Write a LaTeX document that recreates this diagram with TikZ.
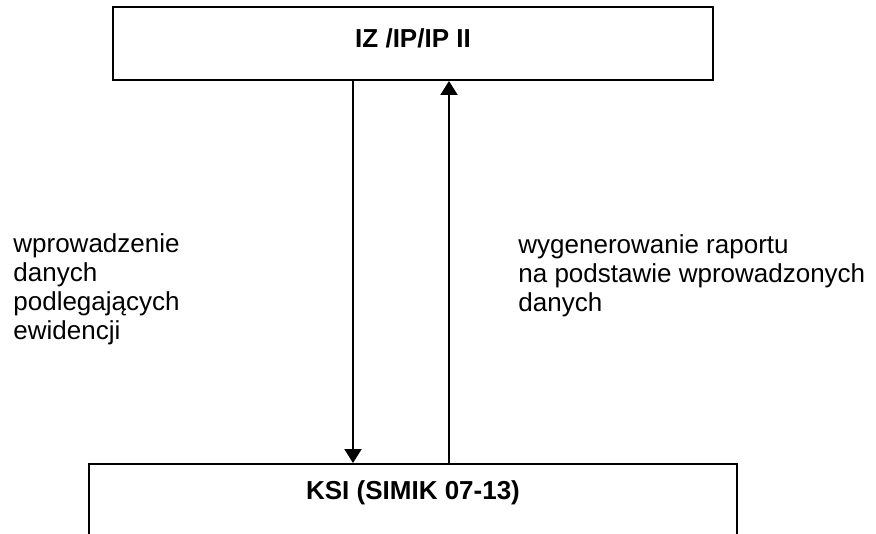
\documentclass[tikz,border=0pt]{standalone}
\usepackage{fontspec}
\setmainfont{Liberation Sans}
\usetikzlibrary{arrows.meta,positioning}
\tikzset{
  blk/.style  = {draw, line width=1pt, inner sep=0pt,
                 font=\fontsize{13}{14.5}\selectfont\bfseries},
  flow/.style = {-{Triangle[length=7pt,width=8.5pt]}, line width=1pt},
  lbl/.style  = {align=left, inner sep=0pt, anchor=north west,
                 font=\fontsize{13}{14.5}\selectfont},
}

\begin{document}
\begin{tikzpicture}[x=0.5pt,y=-0.5pt]
  \clip (0,0) rectangle (876,534);
  \fill[white] (0,0) rectangle (876,534);

  % ---------- the two boxes ----------------------------------------------
  \node[blk, minimum width=300pt, text height=20.5pt, text depth=16pt]
    (iz) at (413,43.5) {IZ /IP/IP II};
  \node[blk, minimum width=324pt, text height=17.5pt, text depth=30pt,
        anchor=north] (ksi) at (413,463) {KSI (SIMIK 07-13)};

  % helper columns for the two arrows
  \coordinate (downx) at (353,0);
  \coordinate (upx)   at (449,0);

  % ---------- connectors -------------------------------------------------
  \draw[flow] (iz.south -| downx) -- (ksi.north -| downx);
  \draw[flow] (ksi.north -| upx) -- (iz.south -| upx);

  % ---------- labels -----------------------------------------------------
  \node[lbl] (lblIn)  at (13,233)
    {wprowadzenie\\ danych\\ podlegających\\ ewidencji};
  \node[lbl] (lblOut) at (518,234)
    {wygenerowanie raportu\\ na podstawie wprowadzonych\\ danych};

\end{tikzpicture}
\end{document}
